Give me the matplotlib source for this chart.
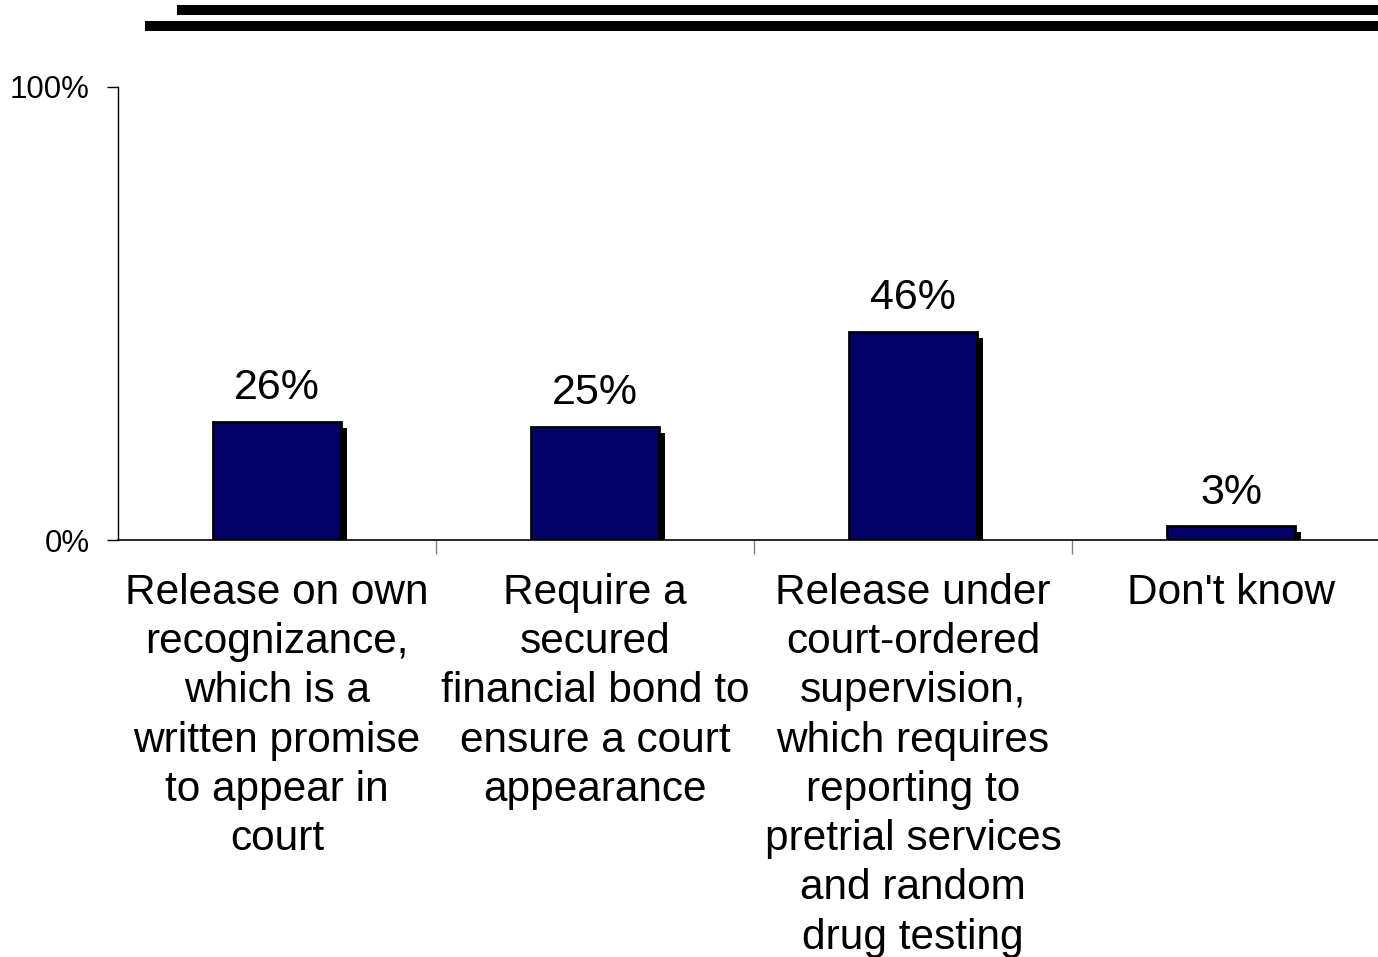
import matplotlib
matplotlib.use('Agg')
from matplotlib import pyplot as plt
from matplotlib import patheffects
from matplotlib.lines import Line2D

categories = [
    'Release on own\nrecognizance,\nwhich is a\nwritten promise\nto appear in\ncourt',
    'Require a\nsecured\nfinancial bond to\nensure a court\nappearance',
    'Release under\ncourt-ordered\nsupervision,\nwhich requires\nreporting to\npretrial services\nand random\ndrug testing',
    "Don't know",
]
values = [26, 25, 46, 3]
value_labels = ['26%', '25%', '46%', '3%']
ytick_labels = ['0%', '100%']

plt.rcParams['font.family'] = ['Liberation Sans', 'DejaVu Sans']

W, H = 1378, 957
fig = plt.figure(figsize=(W / 100, H / 100), dpi=100)
# axes: x from 118px to 1378px, y from 540px (0%) to 87px (100%)
ax = fig.add_axes([118 / W, 1 - 540 / H, (1378 - 118) / W, (540 - 87) / H])

x = list(range(len(values)))
bars = ax.bar(x, values, width=0.405, color='#000066', edgecolor='black',
              linewidth=2, zorder=3)
for b in bars:
    b.set_path_effects([
        patheffects.SimplePatchShadow(offset=(4.3, -4.3), shadow_rgbFace='black', alpha=1),
        patheffects.Normal(),
    ])

for xi, v, lab in zip(x, values, value_labels):
    ax.annotate(lab, (xi, v), xytext=(0, 10), textcoords='offset points',
                ha='center', va='bottom', fontsize=31)

ax.set_xlim(-0.5, 3.5 - 12 / 318)
ax.set_ylim(0, 100)
ax.set_yticks([0, 100])
ax.set_yticklabels(ytick_labels)
ax.set_xticks([0.5, 1.5, 2.5])
ax.set_xticklabels([])
ax.tick_params(axis='y', direction='out', length=8, width=1, pad=12.5, labelsize=22.5)
ax.tick_params(axis='x', direction='out', length=10, width=1, color='#808080')
for s in ['top', 'right']:
    ax.spines[s].set_visible(False)
ax.spines['left'].set_linewidth(1)
ax.spines['bottom'].set_linewidth(1.2)

for xi, c in zip(x, categories):
    ax.text(xi, -7.2, c, ha='center', va='top', fontsize=30.5,
            linespacing=1.30, transform=ax.transData)

# decorative double rule at the top
fig.add_artist(Line2D([177 / W, 1], [1 - 10 / H, 1 - 10 / H], color='black',
                      linewidth=7.2, solid_capstyle='butt'))
fig.add_artist(Line2D([145 / W, 1], [1 - 26 / H, 1 - 26 / H], color='black',
                      linewidth=7.2, solid_capstyle='butt'))

fig.savefig('out.png', dpi=100)
